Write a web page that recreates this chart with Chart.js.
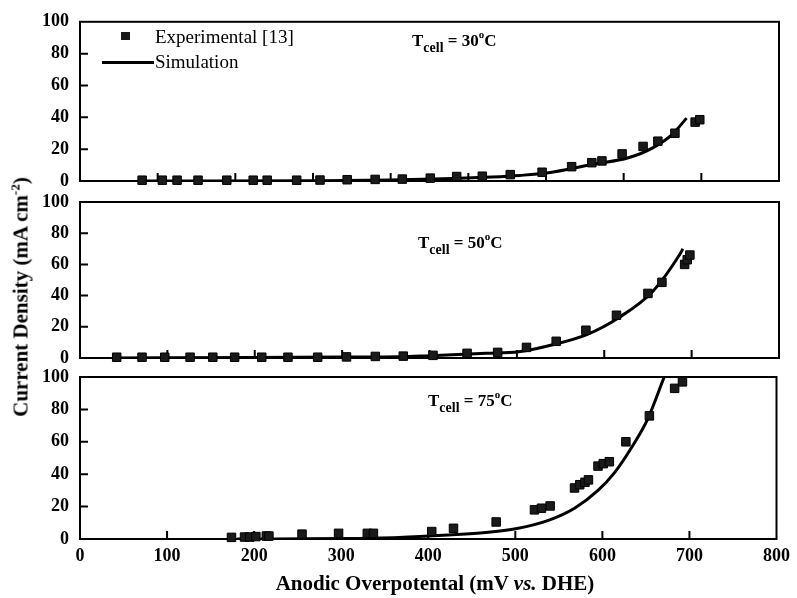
<!DOCTYPE html>
<html>
<head>
<meta charset="utf-8">
<script src="https://cdn.jsdelivr.net/npm/chart.js@4.4.0/dist/chart.umd.min.js"></script>
<style>
    body { margin: 0; background: #fff; }
    #wrap { position: relative; width: 797px; height: 598px; font-family: 'Liberation Serif', 'Times New Roman', serif; color: #000; }
    #wrap canvas { position: absolute; left: 0; top: 0; }
    .txt { position: absolute; white-space: nowrap; line-height: 20px; }
    .ann { font-weight: bold; font-size: 17px; }
    .ann .sb { font-size: 14px; position: relative; top: 6px; }
    .ann .sp { font-size: 11px; position: relative; top: -8px; }
    .leg { font-size: 19px; }
    .title { font-weight: bold; font-size: 21px; }
</style>
</head>
<body>
<div id="wrap">
    <canvas id="c1" width="797" height="598"></canvas>
    <canvas id="c2" width="797" height="598"></canvas>
    <canvas id="c3" width="797" height="598"></canvas>

    <div style="position:absolute;left:121px;top:32px;width:9px;height:8px;background:#1a1a1a;"></div>
    <div class="txt leg" style="left:155px;top:27px;">Experimental [13]</div>
    <div style="position:absolute;left:102px;top:61px;width:52px;height:3px;background:#000;"></div>
    <div class="txt leg" style="left:155px;top:52px;">Simulation</div>

    <div class="txt ann" style="left:412px;top:31px;">T<span class="sb">cell</span> = 30<span class="sp">o</span>C</div>
    <div class="txt ann" style="left:418px;top:233px;">T<span class="sb">cell</span> = 50<span class="sp">o</span>C</div>
    <div class="txt ann" style="left:428px;top:391px;">T<span class="sb">cell</span> = 75<span class="sp">o</span>C</div>

    <div class="txt title" style="left:22px;top:297px;transform:translate(-50%,-50%) rotate(-90deg);">Current Density (mA cm<span style="font-size:13px;position:relative;top:-8px;">-2</span>)</div>
    <div class="txt title" style="left:435px;top:583px;transform:translate(-50%,-50%);">Anodic Overpotental (mV <i>vs.</i> DHE)</div>
</div>
<script>
// T = 30 C (top panel, its x axis runs 0-900)
const exp30X = [80, 106, 125, 152, 189, 223, 241, 279, 309, 344, 380, 415, 451, 485, 518, 554, 595, 633, 659, 672, 698, 725, 744, 766, 792, 798];
const exp30Y = [0.5, 0.5, 0.5, 0.5, 0.5, 0.5, 0.5, 0.5, 0.6, 0.8, 1.0, 1.2, 1.8, 2.8, 3.0, 4.0, 5.5, 9.0, 11.5, 12.6, 17.0, 21.7, 25.0, 30.0, 37.0, 38.5];
const sim30X = [80, 300, 400, 480, 530, 566, 601, 631, 660, 706, 738, 763, 781];
const sim30Y = [0, 0.2, 0.6, 1.5, 2.5, 3.5, 5.0, 7.6, 10.5, 14.6, 21.0, 29.5, 39.5];

// T = 50 C
const exp50X = [42, 71, 97, 126, 152, 177, 208, 238, 272, 305, 338, 370, 404, 443, 478, 511, 545, 579, 614, 650, 666, 692, 695, 698];
const exp50Y = [0.5, 0.5, 0.5, 0.5, 0.5, 0.5, 0.5, 0.5, 0.5, 0.7, 1.0, 1.2, 1.7, 3.0, 3.6, 6.8, 10.7, 17.8, 27.4, 41.4, 48.5, 60, 63, 66];
const sim50X = [40, 200, 300, 366, 400, 465, 502, 541, 580, 617, 656, 686, 690];
const sim50Y = [0, 0.3, 0.6, 0.8, 1.5, 3.0, 4.0, 8.5, 15, 26, 43, 66, 70];

// T = 75 C
const exp75X = [174, 189, 195, 202, 214, 217, 255, 297, 330, 337, 404, 429, 478, 522, 530, 540, 568, 574, 580, 584, 595, 601, 608, 627, 654, 683, 692];
const exp75Y = [1, 1.2, 1.2, 1.5, 1.8, 1.8, 3, 3.5, 3.5, 3.5, 4.6, 6.6, 10.5, 18, 19, 20.4, 31.5, 33.5, 35, 36.5, 45, 46.5, 47.7, 60, 76, 93, 97];
const sim75X = [180, 300, 366, 423, 466, 502, 538, 568, 595, 614, 633, 652, 671];
const sim75Y = [0, 0.3, 1, 2.5, 4, 6.5, 11.5, 19, 30, 41, 56, 74, 100];

const yMax = 100, yStep = 20, xStep = 100;

const tickFont = { family: "'Liberation Serif', 'Times New Roman', serif", size: 18, weight: 'bold' };

// marco del panel y marcas hacia dentro
const marcoPlugin = {
    id: 'marco',
    beforeDatasetsDraw(chart) {
        const { ctx, chartArea: a, scales } = chart;
        ctx.save();
        ctx.strokeStyle = '#000';
        ctx.lineWidth = 2;
        ctx.strokeRect(a.left, a.top, a.right - a.left, a.bottom - a.top);
        ctx.beginPath();
        scales.x.ticks.forEach(t => {
            const px = scales.x.getPixelForValue(t.value);
            if (px > a.left + 2 && px < a.right - 2) {
                ctx.moveTo(px, a.bottom);
                ctx.lineTo(px, a.bottom - 8);
            }
        });
        scales.y.ticks.forEach(t => {
            const py = scales.y.getPixelForValue(t.value);
            if (py > a.top + 2 && py < a.bottom - 2) {
                ctx.moveTo(a.left, py);
                ctx.lineTo(a.left + 8, py);
            }
        });
        ctx.stroke();
        ctx.restore();
    }
};

function puntos(xs, ys) {
    return xs.map((x, i) => ({ x: x, y: ys[i] }));
}

function crearPanel(id, padTop, padBottom, xMax, conEtiquetas, expX, expY, simX, simY) {
    return new Chart(document.getElementById(id), {
        type: 'scatter',
        data: {
            datasets: [{
                label: 'Simulation',
                data: puntos(simX, simY),
                showLine: true,
                borderColor: '#000',
                borderWidth: 3,
                pointRadius: 0,
                cubicInterpolationMode: 'monotone',
                order: 2
            }, {
                label: 'Experimental [13]',
                data: puntos(expX, expY),
                pointStyle: 'rect',
                pointRadius: 6,
                backgroundColor: '#1a1a1a',
                borderColor: '#000',
                borderWidth: 1,
                clip: false,
                order: 1
            }]
        },
        options: {
            responsive: false,
            animation: false,
            events: [],
            layout: { padding: { top: padTop, bottom: padBottom, left: 0, right: 18 } },
            plugins: { legend: { display: false }, tooltip: { enabled: false } },
            scales: {
                x: {
                    type: 'linear', min: 0, max: xMax,
                    grid: { display: false, drawTicks: false },
                    border: { display: false },
                    ticks: { display: conEtiquetas, stepSize: xStep, padding: 7, color: '#000', font: tickFont },
                    afterFit: s => { s.height = conEtiquetas ? 59 : 0; }
                },
                y: {
                    min: 0, max: yMax,
                    grid: { display: false, drawTicks: false },
                    border: { display: false },
                    ticks: { stepSize: yStep, padding: 11, color: '#000', font: tickFont },
                    afterFit: s => { s.width = 80; }
                }
            }
        },
        plugins: [marcoPlugin]
    });
}

crearPanel('c1', 15, 417, 900, false, exp30X, exp30Y, sim30X, sim30Y);
crearPanel('c2', 202, 240, 800, false, exp50X, exp50Y, sim50X, sim50Y);
crearPanel('c3', 377, 0, 800, true, exp75X, exp75Y, sim75X, sim75Y);
</script>
</body>
</html>
